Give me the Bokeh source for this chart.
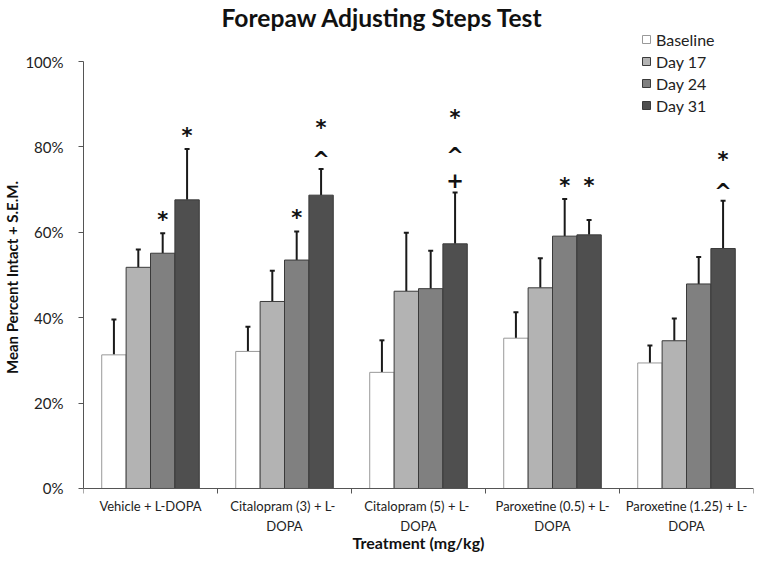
import numpy as np
from bokeh.plotting import figure
from bokeh.models import (ColumnDataSource, Range1d, FixedTicker, PrintfTickFormatter,
                          Legend, LegendItem, Whisker, TeeHead, Label)
from bokeh.embed import file_html
from bokeh.resources import INLINE
from bokeh.core.properties import value

# ---- data ----
categories = ["Vehicle + L-DOPA",
              "Citalopram (3) +  L-\nDOPA",
              "Citalopram (5) +  L-\nDOPA",
              "Paroxetine (0.5) + L-\nDOPA",
              "Paroxetine (1.25) + L-\nDOPA"]
series = ["Baseline", "Day 17", "Day 24", "Day 31"]

baseline = [31.3, 32.1, 27.2, 35.2, 29.4]
baseline_sem = [8.3, 5.8, 7.5, 6.1, 4.1]
day17 = [51.8, 43.8, 46.2, 47.0, 34.6]
day17_sem = [4.2, 7.2, 13.7, 6.9, 5.2]
day24 = [55.1, 53.5, 46.8, 59.1, 47.9]
day24_sem = [4.7, 6.7, 8.9, 8.7, 6.3]
day31 = [67.6, 68.7, 57.3, 59.4, 56.2]
day31_sem = [11.9, 6.1, 12.0, 3.5, 11.2]

# significance marks (top to bottom)
baseline_marks = ["", "", "", "", ""]
day17_marks = ["", "", "", "", ""]
day24_marks = ["*", "*", "", "*", ""]
day31_marks = ["*", "*^", "*^+", "*", "*^"]

y_ticks = [0, 20, 40, 60, 80, 100]

means = [baseline, day17, day24, day31]
sems = [baseline_sem, day17_sem, day24_sem, day31_sem]
marks = [baseline_marks, day17_marks, day24_marks, day31_marks]
fills = ["#ffffff", "#b3b3b3", "#808080", "#4f4f4f"]
lines = ["#999999", "#3a3a3a", "#3a3a3a", "#3a3a3a"]

FONT = "Lato"
n = len(categories)
centers = np.arange(n) + 0.5
bw = 0.182
H = 554
Y0, Y1 = -15.46, 114.29
PX = H / (Y1 - Y0)          # pixels per percent

p = figure(width=754, height=H, output_backend="svg", toolbar_location=None,
           x_range=Range1d(0, n), y_range=Range1d(Y0, Y1),
           min_border_left=82, min_border_right=1, min_border_top=0,
           min_border_bottom=0)
p.outline_line_color = None
p.xgrid.grid_line_color = None
p.ygrid.grid_line_color = None
p.background_fill_color = "white"

renderers = []
err_tops = []
for i, s in enumerate(series):
    off = (i - 1.5) * bw
    xs = centers + off
    top = np.array(means[i])
    up = top + np.array(sems[i])
    err_tops.append(up)
    src = ColumnDataSource(dict(x=xs, top=top, up=up))
    r = p.vbar(x="x", top="top", bottom=0, width=bw, source=src,
               fill_color=fills[i], line_color=lines[i], line_width=1)
    renderers.append(r)
    w = Whisker(source=src, base="x", lower="top", upper="up", dimension="height",
                line_color="#1a1a1a", line_width=2,
                upper_head=TeeHead(size=5, line_color="#1a1a1a", line_width=2),
                lower_head=None)
    p.add_layout(w)

# significance marks (visual offsets in px above the error bar, per stack level)
level_px = [14, 42, 76]
glyph_px = {"*": 1, "^": 5, "+": 1}
mx, my, mt = [], [], []
for i in range(len(series)):
    off = (i - 1.5) * bw
    for g in range(n):
        m = marks[i][g]
        if not m:
            continue
        base = err_tops[i][g]
        for j in range(len(series)):
            if j != i and marks[j][g] and abs(err_tops[j][g] - base) < 8:
                base = max(base, err_tops[j][g])
        for k, ch in enumerate(reversed(m)):
            mx.append(centers[g] + off)
            my.append(base + (level_px[k] - glyph_px[ch]) / PX)
            mt.append(ch)
p.text(x=mx, y=my, text=mt, text_align="center", text_baseline="middle",
       text_font=value("DejaVu Sans"), text_font_style="bold",
       text_font_size="21px", text_color="#111111")

# axes
p.yaxis.bounds = (0, 100)
p.yaxis.ticker = FixedTicker(ticks=y_ticks)
p.yaxis.formatter = PrintfTickFormatter(format="%d%%")
p.yaxis.major_tick_out = 5
p.yaxis.major_tick_in = 0
p.yaxis.minor_tick_line_color = None
p.yaxis.axis_line_color = "#555555"
p.yaxis.major_tick_line_color = "#555555"
p.yaxis.major_label_text_font = FONT
p.yaxis.major_label_text_font_size = "15px"
p.yaxis.major_label_text_color = "#222222"
p.yaxis.major_label_standoff = 15
p.yaxis.axis_label = "Mean Percent Intact + S.E.M."
p.yaxis.axis_label_text_font = FONT
p.yaxis.axis_label_text_font_size = "15px"
p.yaxis.axis_label_text_font_style = "bold"
p.yaxis.axis_label_text_color = "#111111"
p.yaxis.axis_label_standoff = 1

p.xaxis.fixed_location = 0
p.xaxis.ticker = FixedTicker(ticks=list(centers), minor_ticks=list(range(n + 1)))
p.xaxis.major_label_overrides = {float(c): categories[k] for k, c in enumerate(centers)}
p.xaxis.major_tick_line_color = None
p.xaxis.minor_tick_line_color = "#555555"
p.xaxis.minor_tick_out = 5
p.xaxis.minor_tick_in = 0
p.xaxis.axis_line_color = "#555555"
p.xaxis.major_label_text_font = FONT
p.xaxis.major_label_text_font_size = "13px"
p.xaxis.major_label_text_line_height = 1.22
p.xaxis.major_label_text_color = "#222222"
p.xaxis.major_label_standoff = 4

# x axis title
p.add_layout(Label(x=n / 2, y=-12.7, text="Treatment (mg/kg)",
                   text_align="center", text_baseline="middle",
                   text_font=FONT, text_font_style="bold", text_font_size="16px",
                   text_color="#111111"))

# title
p.add_layout(Label(x=2.232, y=110.3, text="Forepaw Adjusting Steps Test",
                   text_align="center", text_baseline="middle",
                   text_font=FONT, text_font_style="bold", text_font_size="24.6px",
                   text_color="#111111"))

legend = Legend(items=[LegendItem(label=s, renderers=[renderers[i]]) for i, s in enumerate(series)],
                location=(558, 439), orientation="vertical",
                glyph_width=10, glyph_height=10, label_height=20, spacing=2,
                label_standoff=5, padding=0, margin=0,
                border_line_color=None, background_fill_alpha=0,
                label_text_font=FONT, label_text_font_size="16px",
                label_text_color="#222222")
p.add_layout(legend)

open("out.html", "w").write(file_html(p, INLINE))
